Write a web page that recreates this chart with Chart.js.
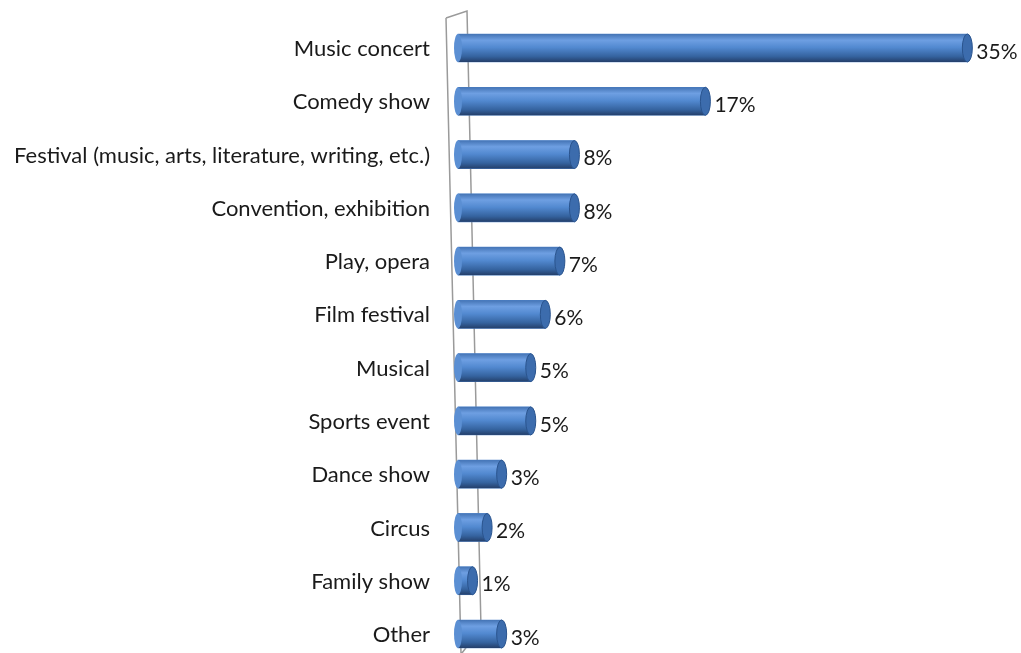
<!DOCTYPE html>
<html>
<head>
<meta charset="utf-8">
<script src="https://cdn.jsdelivr.net/npm/chart.js@4/dist/chart.umd.min.js"></script>
<style>
  html, body { margin: 0; padding: 0; background: #fff; }
  #wrap { width: 1021px; height: 653px; }
</style>
</head>
<body>
<div id="wrap"><canvas id="myEvents"></canvas></div>
<script>
const categories = ['Music concert', 'Comedy show', 'Festival (music, arts, literature, writing, etc.)', 'Convention, exhibition', 'Play, opera', 'Film festival', 'Musical', 'Sports event', 'Dance show', 'Circus', 'Family show', 'Other'];
const shares = [35, 17, 8, 8, 7, 6, 5, 5, 3, 2, 1, 3];
const valueLabels = ['35%', '17%', '8%', '8%', '7%', '6%', '5%', '5%', '3%', '2%', '1%', '3%'];

const FONT = 'Lato, "Open Sans", sans-serif';

// cylinder shading, end caps and value labels
const cylinders = {
    id: 'cylinders',
    afterDatasetsDraw(chart) {
        const c = chart.ctx;
        const meta = chart.getDatasetMeta(0);
        meta.data.forEach((bar, i) => {
            const h = bar.height;
            const top = bar.y - h / 2;
            c.save();
            const g = c.createLinearGradient(0, top, 0, top + h);
            g.addColorStop(0, '#4474b5');
            g.addColorStop(0.22, '#6e9fe2');
            g.addColorStop(0.48, '#5289d0');
            g.addColorStop(0.8, '#35639f');
            g.addColorStop(1, '#243f6a');
            c.fillStyle = g;
            c.fillRect(bar.base, top, bar.x - bar.base, h);

            c.fillStyle = '#5b8fd3';
            c.beginPath();
            c.ellipse(bar.base, bar.y, 4, h / 2, 0, 0, Math.PI * 2);
            c.fill();
            c.fillStyle = '#3c6cad';
            c.strokeStyle = '#2a548e';
            c.beginPath();
            c.ellipse(bar.x, bar.y, 5, h / 2, 0, 0, Math.PI * 2);
            c.fill();
            c.stroke();
            c.restore();

            c.save();
            c.fillStyle = '#1a1a1a';
            c.font = '21px ' + FONT;
            c.textAlign = 'left';
            c.textBaseline = 'middle';
            c.fillText(valueLabels[i], bar.x + 9, bar.y + 4);
            c.restore();
        });
    }
};

// category names, placed by the y scale
const categoryNames = {
    id: 'categoryNames',
    afterDraw(chart) {
        const c = chart.ctx;
        const y = chart.scales.y;
        c.save();
        c.fillStyle = '#1a1a1a';
        c.font = '22px ' + FONT;
        c.textAlign = 'right';
        c.textBaseline = 'middle';
        categories.forEach((name, i) => {
            c.fillText(name, 430, y.getPixelForValue(i) + 1);
        });
        c.restore();
    }
};

// grey back wall outline
const wallOutline = {
    id: 'wallOutline',
    beforeDatasetsDraw(chart) {
        const c = chart.ctx;
        c.save();
        c.strokeStyle = '#9a9a9a';
        c.lineWidth = 1.5;
        c.beginPath();
        c.moveTo(446, 18);
        c.lineTo(461, 653);
        c.moveTo(446, 18);
        c.lineTo(467, 11);
        c.lineTo(481, 628);
        c.lineTo(462, 653);
        c.stroke();
        c.restore();
    }
};

const events = document.getElementById('myEvents');

if (events) {
    new Chart(events, {
        type: 'bar',
        data: {
            labels: categories,
            datasets: [{
                label: 'Share',
                data: shares,
                backgroundColor: '#4f85cc',
                borderWidth: 0,
                barThickness: 28,
                clip: false
            }]
        },
        options: {
            indexAxis: 'y',
            responsive: true,
            maintainAspectRatio: false,
            animation: false,
            layout: {
                padding: { top: 48, bottom: 19, right: 10, left: 0 }
            },
            plugins: {
                legend: { display: false },
                tooltip: { enabled: false }
            },
            scales: {
                x: {
                    min: 0,
                    max: 38,
                    display: false
                },
                y: {
                    offset: false,
                    grid: { display: false },
                    border: { display: false },
                    afterFit(axis) { axis.width = 458; },
                    ticks: { display: false, padding: 0 }
                }
            }
        },
        plugins: [wallOutline, cylinders, categoryNames]
    });
}
</script>
</body>
</html>
